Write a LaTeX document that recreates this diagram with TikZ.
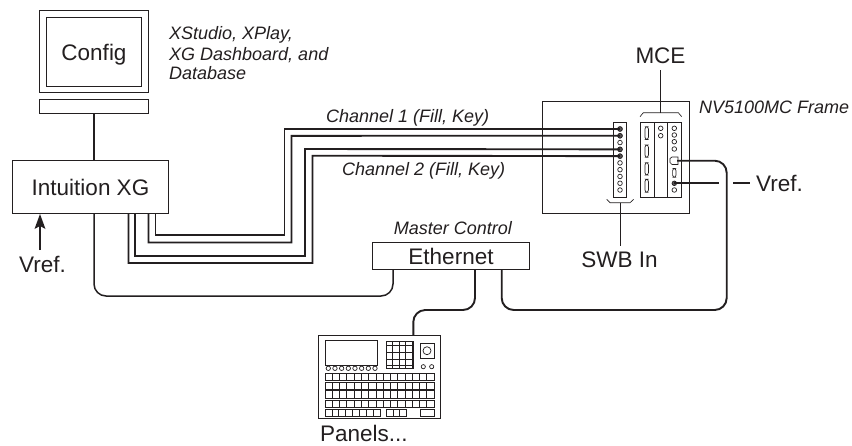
\documentclass[tikz,border=0pt]{standalone}
\usepackage{fontspec}
\setmainfont{Liberation Sans}
\definecolor{ink}{HTML}{231F20}
\tikzset{
  x=1pt,y=-1pt,
  every path/.style={color=ink},
  box/.style={draw=ink,line width=0.9pt,fill=white,inner sep=0pt,outer sep=0pt,anchor=north west},
  wire/.style={draw=ink,line width=1.9pt,line join=miter},
  curved/.style={wire,rounded corners=12pt},
  thin line/.style={draw=ink,line width=0.8pt},
  fine/.style={draw=ink,line width=0.65pt},
  lab/.style={text=ink,font=\fontsize{22.5}{24}\selectfont,inner sep=0pt},
  note/.style={text=ink,font=\fontsize{18}{21}\selectfont\itshape,inner sep=0pt},
  hole/.style={circle,draw=ink,line width=0.7pt,fill=white,minimum size=4.6pt,inner sep=0pt},
  dothole/.style={hole,fill=ink!75},
  slot/.style={draw=ink,line width=0.7pt,rounded corners=2.2pt},
}
\begin{document}
\begin{tikzpicture}
\useasboundingbox[fill=white] (0,0) rectangle (852,445);
% monitor
\node[box,minimum width=109pt,minimum height=82pt] (monitor) at (39.5,10.5) {};
\node[box,minimum width=95.5pt,minimum height=68.5pt] (screen) at (46,17.5) {};
\node[lab,anchor=base] (configt) at (94,60) {Config};
\node[box,minimum width=109pt,minimum height=14pt] (base) at (39.5,99.5) {};
\node[note,anchor=base west] (tools1) at (169,39) {XStudio, XPlay,};
\node[note,anchor=base west] (tools2) at (169,60) {XG Dashboard, and};
\node[note,anchor=base west] (tools3) at (169,79) {Database};
% intuition
\node[box,minimum width=156pt,minimum height=53pt] (xg) at (12.5,160.5) {};
\node[lab,anchor=base] (xgt) at (90.5,195) {Intuition XG};
\draw[wire,line width=1.4pt] (base.south) -- (base.south |- xg.north);
\node[lab,anchor=base] (vref1) at (42.5,272) {Vref.};
\coordinate (a1) at (40,250);
\draw[draw=ink,line width=1.2pt] (a1) -- (40,222);
\fill[ink] (40,214) -- (34.5,229) -- (40,226) -- (45.5,229) -- cycle;
% frame
\node[box,minimum width=146.5pt,minimum height=112pt] (frame) at (542.7,101.7) {};
\node[note,anchor=base west] (frameT) at (699,113) {NV5100MC Frame};
\node[box,minimum width=13.7pt,minimum height=75pt] (swb) at (613,122) {};
\foreach \i in {0,...,9} { \node[hole] (s\i) at (620,129+6.78*\i) {}; }
\foreach \i in {0,1,3,4} { \node[dothole] (s\i) at (620,129+6.78*\i) {}; }
\node[box,minimum width=41.7pt,minimum height=75pt] (mce) at (640,122) {};
\draw[thin line] (654,122) -- (654,197) (667.7,122) -- (667.7,197);
\foreach \y/\h in {126.7/12.7,145/12.3,162.7/12.3,179.3/13} {
  \draw[slot] (645,\y) rectangle (648.4,\y+\h);
}
\node[hole] (m1) at (660.7,128.3) {};
\node[hole] (m2) at (660.7,135.7) {};
\foreach \y in {128.3,135,141.7,149} { \node[hole] at (674.3,\y) {}; }
\node[dothole] (r1) at (674.3,183.3) {};
\node[hole] (r2) at (674.3,190) {};
\draw[slot] (672.6,168.5) rectangle (676,177.3);
\draw[fine] (670,158.5) -- (672,157) -- (678,157) -- (678,164.5) -- (672,164.5) -- (670,162.5) -- cycle;
\coordinate (r0) at (677,160.7);
% brackets
\coordinate (swbb) at (620,202.7);
\draw[fine] (606.7,199.3) -- (610,202.7) -- (630,202.7) -- (633.7,199.3);
\coordinate (mceb) at (660.7,112.7);
\draw[fine] (640,116.7) -- (643.3,112.7) -- (678.3,112.7) -- (681.7,116.7);
\node[lab,anchor=base] (swbt) at (619.5,267) {SWB In};
\node[lab,anchor=base] (mcet) at (660.5,63) {MCE};
\draw[thin line] (swbb) -- (620,245.7);
\draw[thin line] (mceb) -- (660.7,70);
% ethernet
\node[box,minimum width=157pt,minimum height=27pt] (eth) at (372.5,242.5) {};
\node[lab,anchor=base] (etht) at (451,264) {Ethernet};
\node[note,anchor=base] (mc) at (453,234) {Master Control};
% channel labels
\node[note,anchor=base west] (ch1) at (326,122) {Channel 1 (Fill, Key)};
\node[note,anchor=base west] (ch2) at (342,175) {Channel 2 (Fill, Key)};
% panel
\node[box,minimum width=122.4pt,minimum height=83.3pt] (panel) at (318.3,335) {};
\draw[fine] (325,340) rectangle (377.7,365);
\foreach \i in {0,...,7} { \node[hole,minimum size=4.4pt] at (328.3+6.67*\i,368.3) {}; }
\draw[fine,step=6.65pt] (386.7,341.7) grid (413.3,368.3);
\draw[fine] (386.7,341.7) rectangle (413.3,368.3);
\draw[fine] (420,343.3) rectangle (434,358.3);
\node[hole,minimum size=8pt] (knob) at (427,350.7) {};
\node[hole,minimum size=4.2pt] at (423.3,366.7) {};
\node[hole,minimum size=4.2pt] at (431.7,366.7) {};
\foreach \y in {373.3,382,390.7,400} {
  \draw[fine] (325,\y) rectangle (434,\y+7.4);
  \foreach \c in {1,...,15} { \draw[fine] (325+7.27*\c,\y) -- (325+7.27*\c,\y+7.4); }
}
\draw[fine] (325,409.3) rectangle (380,416.7);
\foreach \c in {1,...,7} { \draw[fine] (325+6.875*\c,409.3) -- (325+6.875*\c,416.7); }
\draw[fine] (386,409.3) rectangle (406.7,416.7);
\foreach \c in {1,2} { \draw[fine] (386+6.9*\c,409.3) -- (386+6.9*\c,416.7); }
\draw[fine] (420.7,409.3) rectangle (434,416.7);
\node[lab,anchor=base west] (pt) at (320,441.5) {Panels...};
% channel wires
\draw[wire] (xg.south -| 128.5,0) -- (128.5,263) -- (312.5,263) -- (312.5,155.7) -- (s4.center);
\draw[wire] (xg.south -| 135,0) -- (135,256) -- (305,256) -- (305,149) -- (s3.center);
\draw[wire] (xg.south -| 148.5,0) -- (148.5,242.5) -- (291.5,242.5) -- (291.5,135.8) -- (s1.center);
\draw[wire] (xg.south -| 155.5,0) -- (155.5,235) -- (284.5,235) -- (284.5,129) -- (s0.center);
% curved wires
\draw[curved,line width=1.5pt] (94,213.5) -- (94,296) -- (393,296) -- (eth.south -| 393,0);
\draw[curved] (eth.south -| 475,0) -- (475,310) -- (413.3,310) -- (panel.north -| 413.3,0);
\draw[curved] (eth.south -| 501.7,0) -- (501.7,310) -- (726.7,310) -- (726.7,160.7) -- (r0);
% vref right
\draw[wire] (r1.center) -- (719,183.3);
\coordinate (d1) at (733,183.3);
\coordinate (d2) at (750,183.3);
\draw[wire] (d1) -- (d2);
\node[lab,anchor=base west] (vref2) at (756,191) {Vref.};
\end{tikzpicture}
\end{document}
